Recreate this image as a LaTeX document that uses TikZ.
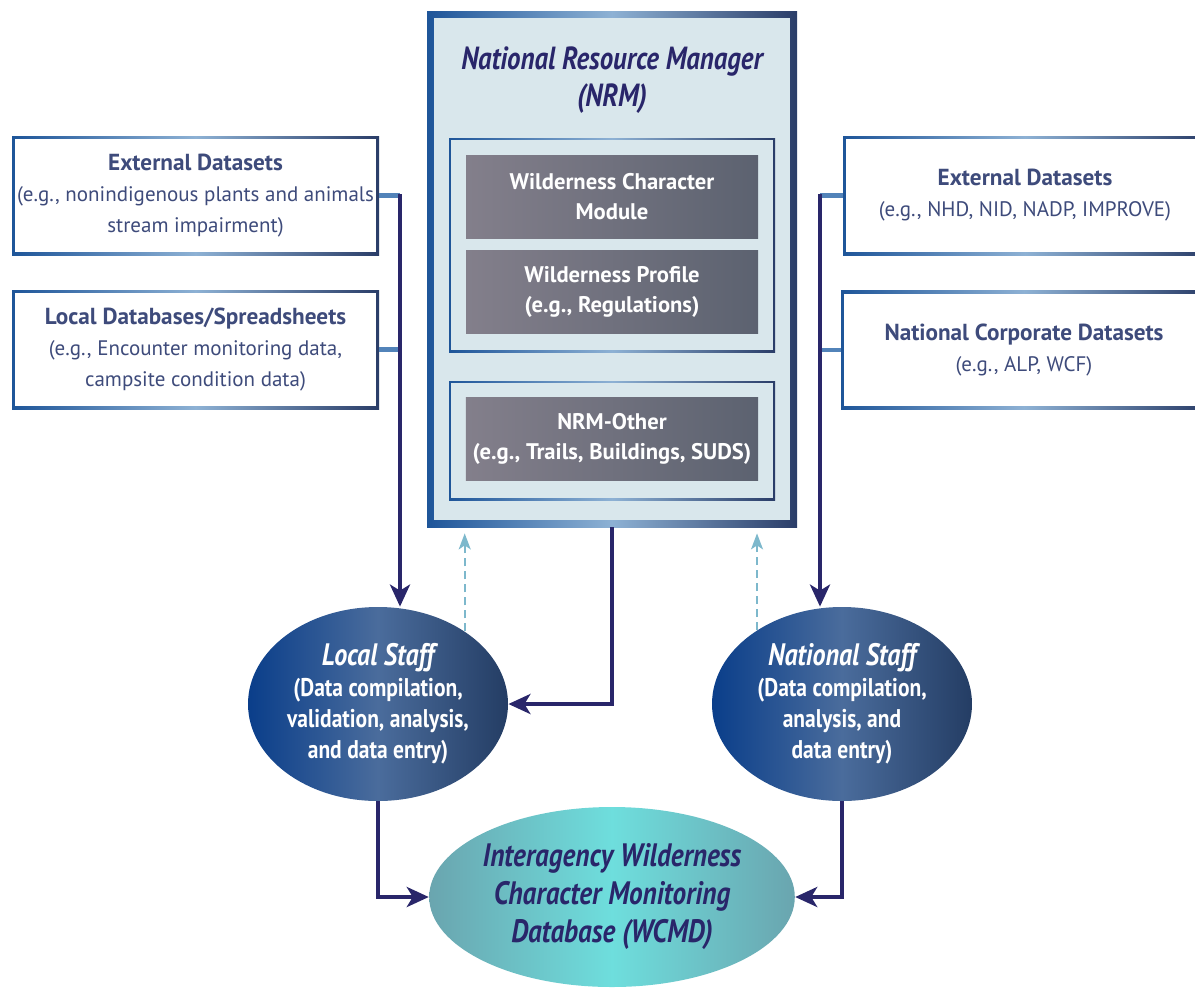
\documentclass[tikz,border=0pt]{standalone}
\usepackage{fontspec}
\setmainfont{PT Sans}
\newfontfamily\condfont[FakeStretch=0.84]{PT Sans}
\usetikzlibrary{arrows.meta,shapes.geometric}
\definecolor{navy}{HTML}{29266A}
\definecolor{slate}{HTML}{3E4B7B}
\definecolor{frameL}{HTML}{1E5599}
\definecolor{frameM}{HTML}{8DB1D4}
\definecolor{frameR}{HTML}{2A3D68}
\definecolor{nrmfill}{HTML}{D9E7EC}
\definecolor{grayL}{HTML}{837F8B}
\definecolor{grayR}{HTML}{5C6270}
\definecolor{staffL}{HTML}{0A3E8A}
\definecolor{staffM}{HTML}{4A6C9C}
\definecolor{staffR}{HTML}{243D64}
\definecolor{tealE}{HTML}{6AA5AF}
\definecolor{tealM}{HTML}{6EDEDD}
\definecolor{stubblue}{HTML}{5283B9}
\definecolor{dashblue}{HTML}{7DB8CC}
\tikzset{
  frame/.style 2 args={rectangle, inner sep=0pt, left color=frameL, right color=frameR, middle color=frameM,
    path picture={\fill[#1] ([shift={(#2,-#2)}]path picture bounding box.north west)
      rectangle ([shift={(-#2,#2)}]path picture bounding box.south east);}},
  srcbox/.style={frame={white}{1.6pt}, minimum height=59.5pt, align=center, text=slate,
    font=\fontsize{10.5}{15.5}\selectfont},
  modbox/.style={rectangle, left color=grayL, right color=grayR, minimum width=146pt, minimum height=41.5pt,
    align=center, text=white, font=\fontsize{11.3}{15}\selectfont\bfseries},
  staff/.style={ellipse, inner sep=0pt, minimum width=130pt, minimum height=97pt, left color=staffL,
    right color=staffR, middle color=staffM, align=center, text=white,
    font=\condfont\fontsize{12.8}{15.5}\selectfont\bfseries},
  bus/.style={draw=navy, line width=2pt},
  stub/.style={draw=stubblue, line width=2.4pt},
  tip/.style={-{Stealth[length=11pt,width=10pt,inset=3pt]}},
  dashlink/.style={draw=dashblue, line width=0.8pt, dash pattern=on 4pt off 2.5pt,
    -{Stealth[length=8pt,width=6pt,inset=2pt]}, shorten >=3pt}
}
\begin{document}
\begin{tikzpicture}[x=0.5pt,y=-0.5pt]
\clip (0,0) rectangle (1195,987);
\node[frame={nrmfill}{3.5pt}, minimum width=185pt, minimum height=258pt] (nrm) at (612,269) {};
\node[frame={nrmfill}{1pt}, minimum width=163pt, minimum height=107pt] (nrminner) at (612,245) {};
\node[frame={nrmfill}{1pt}, minimum width=163pt, minimum height=59.5pt] (nrmouter) at (612,440.5) {};
\path
  (612,80) node[align=center, text=navy, font=\condfont\fontsize{16}{18.5}\selectfont\bfseries\itshape] (nrmtitle)
    {National Resource Manager\\(NRM)}
  (612,196.5) node[modbox] (wcmodule) {Wilderness Character\\Module}
  (612,292) node[modbox] (profile) {Wilderness Profile\\(e.g., Regulations)}
  (612,439) node[modbox] (nrmother) {NRM-Other\\(e.g., Trails, Buildings, SUDS)};
\path
  (195.5,195.5) node[srcbox, minimum width=183.5pt] (extL)
    {{\bfseries\fontsize{11.6}{15.5}\selectfont External Datasets}\\(e.g., nonindigenous plants and animals\\stream impairment)}
  (195.5,349.5) node[srcbox, minimum width=183.5pt] (localdb)
    {{\bfseries\fontsize{11.6}{15.5}\selectfont Local Databases/Spreadsheets}\\(e.g., Encounter monitoring data,\\campsite condition data)}
  (1025,195.5) node[srcbox, minimum width=182pt] (extR)
    {{\bfseries\fontsize{11.6}{15.5}\selectfont External Datasets}\\(e.g., NHD, NID, NADP, IMPROVE)}
  (1024,350) node[srcbox, minimum width=183pt] (corp)
    {{\bfseries\fontsize{11.6}{15.5}\selectfont National Corporate Datasets}\\(e.g., ALP, WCF)};
\path
  (378,704) node[staff] (lstaff)
    {{\itshape\fontsize{15.5}{15.5}\selectfont Local Staff}\\(Data compilation,\\validation, analysis,\\and data entry)}
  (842,704) node[staff] (nstaff)
    {{\itshape\fontsize{15.5}{15.5}\selectfont National Staff}\\(Data compilation,\\analysis, and\\data entry)}
  (612,897) node[ellipse, inner sep=0pt, minimum width=175pt, minimum height=90pt, left color=tealE,
    right color=tealE, middle color=tealM, align=center, text=navy,
    font=\condfont\fontsize{16.2}{19}\selectfont\bfseries\itshape] (wcmd)
    {Interagency Wilderness\\Character Monitoring\\Database (WCMD)};
\coordinate (busL) at (400,196);
\coordinate (busR) at (820,196);
\draw[stub] (extL.east) -- (extL.east -| busL);
\draw[stub] (localdb.east) -- (localdb.east -| busL);
\draw[stub] (extR.west) -- (extR.west -| busR);
\draw[stub] (corp.west) -- (corp.west -| busR);
\draw[bus,tip] ([yshift=1pt]busL) -- (busL |- lstaff.north);
\draw[bus,tip] ([yshift=1pt]busR) -- (busR |- nstaff.north);
\draw[bus,tip] (nrm.south) -- (nrm.south |- lstaff.east) -- (lstaff.east);
\draw[dashlink] (lstaff.40) -- (lstaff.40 |- nrm.south);
\draw[dashlink] (nstaff.139) -- (nstaff.139 |- nrm.south);
\draw[bus,tip] (lstaff.south) -- (lstaff.south |- wcmd.west) -- (wcmd.west);
\draw[bus,tip] (nstaff.south) -- (nstaff.south |- wcmd.east) -- (wcmd.east);
\end{tikzpicture}
\end{document}
